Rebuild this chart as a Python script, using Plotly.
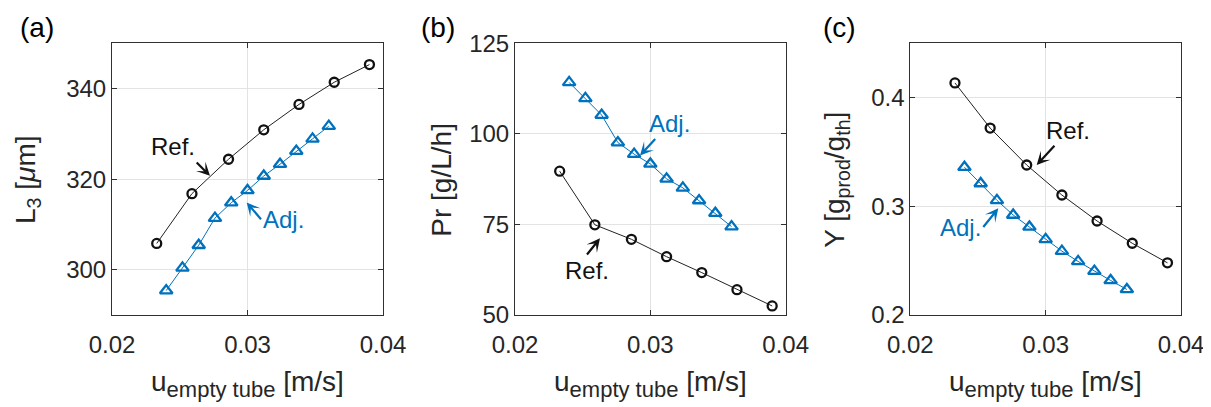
import plotly.graph_objects as go

# ---- data ----
u_ref = [0.0233, 0.0259, 0.0286, 0.0312, 0.0338, 0.0364, 0.0390]
u_adj = [0.0240, 0.0252, 0.0264, 0.0276, 0.0288, 0.0300, 0.0312, 0.0324, 0.0336, 0.0348, 0.0360]

L3_ref = [305.8, 316.8, 324.4, 330.9, 336.5, 341.4, 345.3]
L3_adj = [295.4, 300.4, 305.4, 311.4, 314.8, 317.5, 320.7, 323.3, 326.2, 328.9, 331.7]

Pr_ref = [89.7, 74.9, 70.9, 66.1, 61.7, 57.0, 52.5]
Pr_adj = [114.2, 109.8, 105.2, 97.6, 94.4, 91.7, 87.6, 85.1, 81.6, 78.1, 74.4]

Y_ref = [0.4135, 0.372, 0.338, 0.3104, 0.2865, 0.266, 0.248]
Y_adj = [0.336, 0.321, 0.3055, 0.292, 0.281, 0.2696, 0.2588, 0.2493, 0.2404, 0.2318, 0.2235]

x_ticks = [0.02, 0.03, 0.04]
x_ticklabels = ["0.02", "0.03", "0.04"]
L3_ticks = [300, 320, 340]
Pr_ticks = [50, 75, 100, 125]
Y_ticks = [0.2, 0.3, 0.4]
Y_ticklabels = ["0.2", "0.3", "0.4"]

panel_labels = ["(a)", "(b)", "(c)"]
y_titles = ["L<sub>3</sub> [<i>μ</i>m]", "Pr [g/L/h]", "Y [g<sub>prod</sub>/g<sub>th</sub>]"]
x_title = 'u<sub><span style="font-size:22px">empty tube</span></sub> [m/s]'

BLUE = "#0072BD"
BLACK = "#111111"
AXC = "#303030"
GRID = "#e3e3e3"
FONT = "Liberation Sans, Arial, sans-serif"

W, H = 1211, 407
OFF = 8  # page offset of the plot div (body margin)


def PX(px):
    return (px - OFF) / W


def PY(py):
    return 1 - (py - OFF) / H


x_domains = [[PX(112), PX(383)], [PX(515), PX(785.7)], [PX(910.3), PX(1181)]]
y_domain = [PY(315), PY(43.3)]

fig = go.Figure()

series = [(L3_ref, L3_adj), (Pr_ref, Pr_adj), (Y_ref, Y_adj)]
for i, (yr, ya) in enumerate(series):
    xs = "x" if i == 0 else f"x{i+1}"
    ys = "y" if i == 0 else f"y{i+1}"
    fig.add_trace(go.Scatter(x=u_ref, y=yr, xaxis=xs, yaxis=ys, mode="lines+markers",
                             line=dict(color="#222222", width=1),
                             marker=dict(symbol="circle-open", size=9, color=BLACK,
                                         line=dict(width=2.3, color=BLACK)),
                             showlegend=False))
    fig.add_trace(go.Scatter(x=u_adj, y=ya, xaxis=xs, yaxis=ys, mode="lines+markers",
                             line=dict(color=BLUE, width=1),
                             marker=dict(symbol="triangle-up-open", size=11, color=BLUE,
                                         line=dict(width=2.3, color=BLUE)),
                             showlegend=False))

y_ranges = [[290, 350], [50, 125], [0.2, 0.45]]
y_tickvals = [L3_ticks, Pr_ticks, Y_ticks]
y_ticktext = [[str(v) for v in L3_ticks], [str(v) for v in Pr_ticks], Y_ticklabels]

layout = dict(width=W, height=H, margin=dict(l=0, r=0, t=0, b=0, autoexpand=False),
              plot_bgcolor="white", paper_bgcolor="white",
              font=dict(family=FONT, size=24, color=AXC))

for i in range(3):
    xk = "xaxis" if i == 0 else f"xaxis{i+1}"
    yk = "yaxis" if i == 0 else f"yaxis{i+1}"
    xa = "x" if i == 0 else f"x{i+1}"
    ya = "y" if i == 0 else f"y{i+1}"
    layout[xk] = dict(domain=x_domains[i], anchor=ya, range=[0.02, 0.04],
                      tickvals=x_ticks, ticktext=x_ticklabels,
                      showgrid=True, gridcolor=GRID, gridwidth=1,
                      showline=True, linecolor=AXC, linewidth=1, mirror="ticks",
                      ticks="inside", ticklen=5, tickcolor=AXC,
                      zeroline=False, tickfont=dict(size=24, color="#262626"),
                      ticklabelstandoff=8, automargin=False)
    layout[yk] = dict(domain=y_domain, anchor=xa, range=y_ranges[i],
                      tickvals=y_tickvals[i], ticktext=y_ticktext[i],
                      showgrid=True, gridcolor=GRID, gridwidth=1,
                      showline=True, linecolor=AXC, linewidth=1, mirror="ticks",
                      ticks="inside", ticklen=5, tickcolor=AXC,
                      zeroline=False, tickfont=dict(size=24, color="#262626"),
                      ticklabelstandoff=0, automargin=False)

fig.update_layout(**layout)

ann = []
for lab, xc in zip(panel_labels, [37, 438, 839]):
    ann.append(dict(text=lab, x=PX(xc), y=PY(27), xref="paper", yref="paper",
                    xanchor="center", yanchor="middle", showarrow=False,
                    font=dict(size=28, color="black")))
for t, xc in zip(y_titles, [28, 441.7, 836.7]):
    ann.append(dict(text=t, x=PX(xc), y=PY(180), xref="paper", yref="paper",
                    xanchor="center", yanchor="middle", textangle=-90, showarrow=False,
                    font=dict(size=28, color="#262626")))
for d in x_domains:
    ann.append(dict(text=x_title, x=(d[0] + d[1]) / 2, y=PY(364), xref="paper", yref="paper",
                    xanchor="center", yanchor="top", showarrow=False,
                    font=dict(size=28, color="#262626")))

# (xref, yref, tip_x, tip_y, ax_px, ay_px, xanchor, yanchor, text, color)
arrow_specs = [
    ("x", "y", 0.027232, 320.73, -13.3, -13.4, "right", "bottom", "Ref.", BLACK),
    ("x", "y", 0.029941, 314.84, 14.3, 16.7, "left", "middle", "Adj.", BLUE),
    ("x2", "y2", 0.029235, 94.03, 29, -31.5, "center", "middle", "Adj.", BLUE),
    ("x2", "y2", 0.02628, 71.17, -13, 16.2, "center", "top", "Ref.", BLACK),
    ("x3", "y3", 0.029339, 0.33802, 31.6, -34.2, "center", "middle", "Ref.", BLACK),
    ("x3", "y3", 0.026502, 0.29818, -15, 18.7, "right", "middle", "Adj.", BLUE),
]
for xr, yr, tx, ty, axp, ayp, xan, yan, txt, col in arrow_specs:
    ann.append(dict(text=txt, x=tx, y=ty, xref=xr, yref=yr, ax=axp, ay=ayp,
                    xanchor=xan, yanchor=yan,
                    showarrow=True, arrowhead=3, arrowsize=1.0, arrowwidth=2.2,
                    arrowcolor=col, standoff=0, startstandoff=0,
                    font=dict(size=24, color=col)))

fig.update_layout(annotations=ann)
fig.write_html("out.html")
